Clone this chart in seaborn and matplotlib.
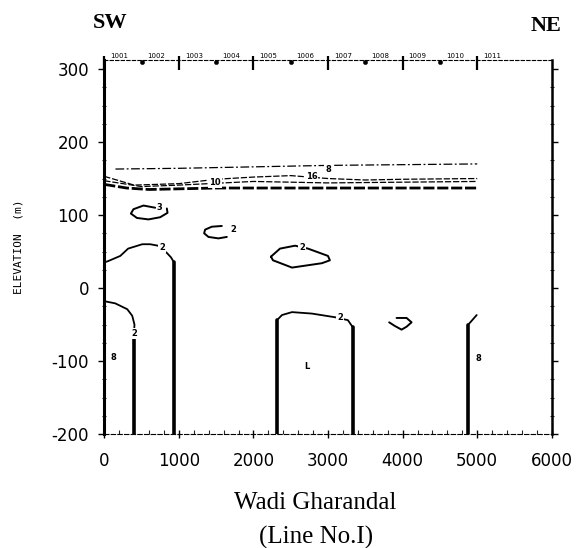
"""
Resistivity section along Wadi Gharandal (Line No. I), redrawn with seaborn.
"""

import pandas as pd
import seaborn as sns
import matplotlib.pyplot as plt
from matplotlib.ticker import MultipleLocator

# stations along the profile (distance in m)
station_names = ["1001", "1002", "1003", "1004", "1005", "1006",
                 "1007", "1008", "1009", "1010", "1011"]
station_x = [0, 500, 1000, 1500, 2000, 2500, 3000, 3500, 4000, 4500, 5000]

# near-surface layer contours (distance m, elevation m)
top_x = [150, 1000, 2000, 3000, 4000, 5000]
top_y = [163, 164, 166, 168, 169, 170]
lay1_x = [0, 400, 1000, 1500, 2000, 2500, 3000, 3500, 4000, 5000]
lay1_y = [153, 141, 143, 149, 152, 154, 150, 148, 149, 150]
lay2_x = [0, 500, 1000, 2000, 3000, 4000, 5000]
lay2_y = [147, 139, 141, 146, 144, 145, 146]
base_x = [0, 300, 600, 1500, 2500, 3500, 5000]
base_y = [142, 137, 135, 137, 137, 137, 137]

# deeper contours
a_x = [0, 55, 215, 320, 510, 615, 720, 840, 895, 930]
a_y = [35, 37, 44, 54, 60, 60, 58, 48, 42, 36]
b_x = [0, 147, 308, 375, 405, 395]
b_y = [-18, -21, -29, -38, -50, -70]
c_x = [2316, 2383, 2517, 2784, 3092, 3266, 3334]
c_y = [-44, -37, -33, -35, -40, -44, -54]
d_x = [4993, 4873]
d_y = [-37, -51]
bottom = -200

# closed contours
loop1_x = [683, 526, 392, 357, 438, 593, 750, 848, 839]
loop1_y = [110, 113, 108, 102, 96, 94, 97, 103, 109]
loop2_x = [1576, 1442, 1352, 1339, 1397, 1531, 1643]
loop2_y = [85, 84, 80, 75, 70, 68, 70]
loop3_x = [2235, 2356, 2557, 2731, 2999, 3025, 2918, 2517, 2262, 2235]
loop3_y = [43, 54, 58, 54, 44, 38, 34, 28, 38, 43]
loop4_x = [3919, 4053, 4120, 4053, 3986, 3896, 3820]
loop4_y = [-41, -41, -47, -53, -57, -52, -47]

# contour labels
lab_text = ["8", "10", "16", "3", "2", "2", "2", "2", "2", "8", "L", "8"]
lab_x = [3000, 1485, 2780, 740, 1730, 2650, 776, 400, 3160, 120, 2718, 5010]
lab_y = [163, 144, 153, 111, 80, 55, 55, -62, -40, -95, -108, -96]


def line(ax, x, y, lw=1.3, ls="-"):
    sns.lineplot(x=x, y=y, ax=ax, sort=False, estimator=None,
                 color="black", linewidth=lw, linestyle=ls, legend=False)


sns.set_theme(style="ticks")
plt.rcParams["font.family"] = ["DejaVu Sans"]
plt.rcParams["axes.unicode_minus"] = False

fig, ax = plt.subplots(figsize=(5.76, 5.48), dpi=100)
fig.subplots_adjust(left=0.181, right=0.958, bottom=0.208, top=0.89)

# layered top
line(ax, top_x, top_y, lw=0.9, ls=(0, (7, 2, 1.5, 2)))
line(ax, lay1_x, lay1_y, lw=0.9, ls=(0, (5, 1.5)))
line(ax, lay2_x, lay2_y, lw=0.9, ls=(0, (5, 1.5)))
line(ax, base_x, base_y, lw=2.0, ls=(0, (4, 1)))

# open contours with their steep flanks
line(ax, a_x, a_y)
line(ax, [a_x[-1], a_x[-1]], [a_y[-1], bottom], lw=2.6)
line(ax, b_x, b_y)
line(ax, [b_x[-1], b_x[-1]], [b_y[-1], bottom], lw=2.6)
line(ax, c_x, c_y)
line(ax, [c_x[0], c_x[0]], [c_y[0], bottom], lw=2.6)
line(ax, [c_x[-1], c_x[-1]], [c_y[-1], bottom], lw=2.6)
line(ax, d_x, d_y)
line(ax, [d_x[-1], d_x[-1]], [d_y[-1], bottom], lw=2.6)

for lx, ly in [(loop1_x, loop1_y), (loop2_x, loop2_y),
               (loop3_x, loop3_y), (loop4_x, loop4_y)]:
    line(ax, lx, ly, lw=1.4)

for t, x, y in zip(lab_text, lab_x, lab_y):
    ax.text(x, y, t, fontsize=6, fontweight="bold", ha="center", va="center",
            color="black",
            bbox=dict(boxstyle="square,pad=0.1", fc="white", ec="none"))

# station markers on the top frame
whole = [x for x in station_x if x % 1000 == 0]
half = [x for x in station_x if x % 1000 != 0]
sns.scatterplot(x=whole, y=[308] * len(whole), ax=ax, marker="|", s=90,
                color="black", linewidth=1.6, clip_on=False, legend=False)
sns.scatterplot(x=half, y=[310] * len(half), ax=ax, marker="o", s=10,
                color="black", edgecolor="black", clip_on=False, legend=False)
for name, x in zip(station_names, station_x):
    ax.text(x + 80, 318, name, fontsize=5, ha="left", va="center",
            color="black", clip_on=False)

ax.set_xlim(0, 6000)
ax.set_ylim(-200, 312)
ax.xaxis.set_major_locator(MultipleLocator(1000))
ax.xaxis.set_minor_locator(MultipleLocator(200))
ax.yaxis.set_major_locator(MultipleLocator(100))
ax.yaxis.set_minor_locator(MultipleLocator(25))
ax.tick_params(axis="both", which="major", labelsize=12, color="black",
               labelcolor="black")
ax.tick_params(axis="y", which="major", direction="out", length=4, width=1,
               pad=7, right=True)
ax.tick_params(axis="y", which="minor", direction="inout", length=3,
               width=0.8, right=True)
ax.tick_params(axis="x", which="major", direction="inout", length=6,
               width=1, pad=10)
ax.tick_params(axis="x", which="minor", direction="in", length=3, width=0.8)

ax.spines["left"].set_linewidth(2.2)
ax.spines["right"].set_linewidth(1.8)
ax.spines["bottom"].set_linewidth(0.8)
ax.spines["bottom"].set_linestyle((0, (4, 2)))
ax.spines["top"].set_linewidth(0.8)
ax.spines["top"].set_linestyle((0, (3, 2)))
for s in ax.spines.values():
    s.set_color("black")

ax.set_xlabel("")
ax.set_ylabel("ELEVATION  (m)", fontsize=8, family="DejaVu Sans Mono",
              color="black")
ax.yaxis.set_label_coords(-0.18, 0.5)

serif = ["Liberation Serif", "DejaVu Serif"]
fig.text(0.191, 0.958, "SW", fontsize=16, fontweight="bold", family=serif,
         ha="center", va="center", color="black")
fig.text(0.948, 0.952, "NE", fontsize=16, fontweight="bold", family=serif,
         ha="center", va="center", color="black")
fig.text(0.548, 0.083, "Wadi Gharandal", fontsize=18, family=serif,
         ha="center", va="center", color="black")
fig.text(0.548, 0.02, "(Line No.I)", fontsize=18, family=serif,
         ha="center", va="center", color="black")

plt.savefig("out.png", dpi=100)
